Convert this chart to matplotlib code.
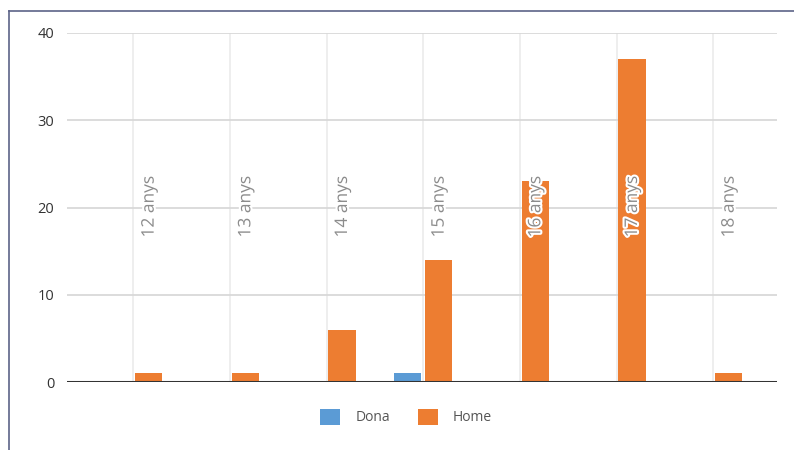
import matplotlib
matplotlib.use("Agg")
import matplotlib.pyplot as plt
import matplotlib.patheffects as pe
from matplotlib.lines import Line2D
from matplotlib.patches import Patch
import numpy as np

categories = ["12 anys", "13 anys", "14 anys", "15 anys", "16 anys", "17 anys", "18 anys"]
dona = [0, 0, 0, 1, 0, 0, 0]
home = [1, 1, 6, 14, 23, 37, 1]
yticks = [0, 10, 20, 30, 40]

plt.rcParams['font.family'] = ['Open Sans', 'DejaVu Sans']

fig = plt.figure(figsize=(7.94, 4.5), dpi=100)
ax = fig.add_axes([67/794, 1-382/450, (777-67)/794, (382-33)/450])

x = np.arange(len(categories))
w = 0.28
off = 0.16
ax.bar(x - off, dona, width=w, color="#5b9bd5", zorder=3, label="Dona")
ax.bar(x + off, home, width=w, color="#ed7d31", zorder=3, label="Home")

ax.set_xlim(-0.685, len(categories) - 1 + 0.66)
ax.set_ylim(0, 40)
ax.set_yticks(yticks)
ax.set_xticks([])
for xi in x:
    ax.axvline(xi, color="#ebebeb", lw=1.2, zorder=1)
for yv in yticks[1:]:
    ax.axhline(yv, color="#d6d6d6", lw=1.2, zorder=1)
ax.axhline(0, color="#333333", lw=2.2, zorder=4)

for s in ax.spines.values():
    s.set_visible(False)
ax.tick_params(axis='y', length=0, pad=9, labelsize=10.5, labelcolor="#333333")

for xi, lab in zip(x, categories):
    ax.text(xi + 0.17, 20.1, lab, rotation=90, ha='center', va='center',
            fontsize=12.5, color="#8c8c8c", zorder=5,
            path_effects=[pe.withStroke(linewidth=3, foreground="white")])

handles = [Patch(facecolor="#5b9bd5", edgecolor="none", label="Dona"),
           Patch(facecolor="#ed7d31", edgecolor="none", label="Home")]
leg = fig.legend(handles=handles, loc='center', bbox_to_anchor=(406/794, 1-417/450),
                 ncol=2, frameon=False, fontsize=10, handlelength=1.45, handleheight=1.45,
                 handletextpad=1.1, columnspacing=2.0)
for t in leg.get_texts():
    t.set_color("#555555")

# outer frame lines (left and top)
fig.add_artist(Line2D([8.5/794, 8.5/794], [0, 1-11/450], transform=fig.transFigure,
                      color="#5c6388", lw=1.2))
fig.add_artist(Line2D([8.5/794, 1], [1-11/450, 1-11/450], transform=fig.transFigure,
                      color="#5c6388", lw=1.2))

fig.savefig("out.png", dpi=100)
